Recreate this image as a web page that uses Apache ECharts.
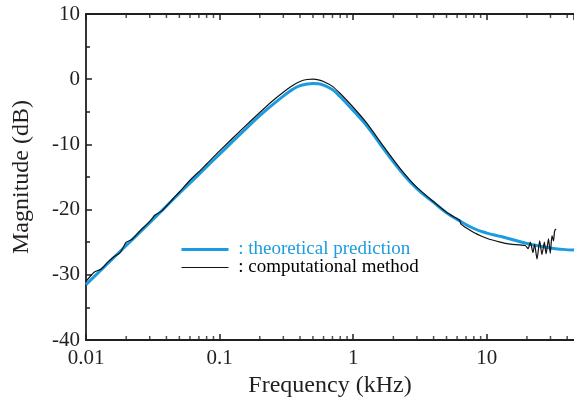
<!DOCTYPE html>
<html>
<head>
<meta charset="utf-8">
<script src="https://cdn.jsdelivr.net/npm/echarts@6/dist/echarts.min.js"></script>
<style>
  html, body { margin: 0; padding: 0; background: #fff; }
  #myChart { width: 574px; height: 402px; }
</style>
</head>
<body>
<div id="myChart"></div>
<script>
// theoretical prediction (kHz, dB)
const theoFreq = [0.01, 0.02, 0.03, 0.05, 0.07, 0.1, 0.15, 0.2, 0.25, 0.3, 0.35, 0.4, 0.45, 0.5, 0.55, 0.6, 0.7, 0.8, 1.0, 1.26, 1.69, 2.25, 3.0, 4.0, 5.0, 6.0, 8.0, 10, 12.6, 15, 20, 25, 30, 37, 45];
const theoMag = [-31.5, -25.5, -22.0, -17.5, -14.6, -11.5, -8.0, -5.6, -3.9, -2.6, -1.6, -1.0, -0.75, -0.66, -0.7, -0.9, -1.6, -2.7, -4.8, -7.1, -10.7, -14.0, -16.8, -18.9, -20.5, -21.5, -22.9, -23.6, -24.1, -24.5, -25.2, -25.6, -25.9, -26.1, -26.2];

// computational method (kHz, dB)
const compFreq = [0.01, 0.0115, 0.013, 0.0145, 0.016, 0.018, 0.02, 0.022, 0.025, 0.03, 0.033, 0.037, 0.045, 0.05, 0.06, 0.065, 0.07, 0.08, 0.1, 0.15, 0.2, 0.25, 0.3, 0.35, 0.4, 0.45, 0.5, 0.55, 0.6, 0.7, 0.8, 1.0, 1.26, 1.69, 2.25, 3.0, 4.0, 5.0, 6.0, 6.3, 6.4, 7.0, 8.0, 10, 12.6, 15, 19.4, 20.4, 21.2, 22.2, 22.8, 23.8, 24.9, 25.9, 27.0, 27.8, 29.0, 29.9, 30.8, 31.6, 32.2, 33.0];
const compMag = [-31.0, -29.6, -29.1, -28.1, -27.3, -26.6, -25.0, -24.6, -23.4, -21.8, -20.8, -20.2, -18.3, -17.3, -15.5, -14.8, -14.2, -13.0, -11.0, -7.5, -5.1, -3.3, -2.0, -1.0, -0.35, -0.05, 0.0, -0.1, -0.35, -1.1, -2.2, -4.3, -6.7, -10.3, -13.7, -16.6, -18.8, -20.4, -21.4, -21.7, -22.2, -22.8, -23.5, -24.4, -25.0, -25.3, -25.5, -26.0, -25.0, -26.6, -25.3, -27.6, -24.8, -26.9, -25.0, -26.8, -24.5, -26.7, -24.0, -24.8, -23.3, -22.95];

// minor ticks of the log axis
const minorTicks = [0.02, 0.03, 0.04, 0.05, 0.06, 0.07, 0.08, 0.09, 0.2, 0.3, 0.4, 0.5, 0.6, 0.7, 0.8, 0.9, 2, 3, 4, 5, 6, 7, 8, 9, 20, 30, 40];

const yTicks = { min: -40, max: 10, interval: 10 };
const xRange = { min: 0.01, max: 45 };

const ink = "#231f20";
const blue = "#1b9be0";
const serif = "Liberation Serif";

function pairs(xs, ys) {
  return xs.map((x, i) => [x, ys[i]]);
}

let chart = echarts.init(document.getElementById("myChart"));
let option = {
  animation: false,
  textStyle: { fontFamily: serif, color: ink },
  grid: { left: 86, right: 0, top: 14, bottom: 62, outerBoundsMode: "none" },
  legend: {
    orient: "vertical",
    left: 175,
    top: 235,
    itemWidth: 47,
    itemHeight: 14,
    itemGap: -1,
    formatter: (name) => " : " + name,
    itemStyle: { opacity: 0 },
    data: [
      { name: "theoretical prediction", textStyle: { color: blue }, lineStyle: { width: 3 } },
      { name: "computational method", textStyle: { color: "#000" }, lineStyle: { width: 1.2 } },
    ],
    textStyle: { fontFamily: serif, fontSize: 19, lineHeight: 14 },
  },
  xAxis: [
    {
      type: "log",
      logBase: 10,
      min: xRange.min,
      max: xRange.max,
      name: "Frequency (kHz)",
      nameLocation: "middle",
      nameGap: 33,
      nameTextStyle: { fontFamily: serif, fontSize: 24, color: ink },
      axisLine: { onZero: false, lineStyle: { color: ink, width: 1.8 } },
      axisTick: { inside: true, length: 6, lineStyle: { color: ink, width: 1.5 } },
      axisLabel: {
        fontFamily: serif, fontSize: 21, color: ink, margin: 8,
        showMaxLabel: false,
      },
      splitLine: { show: false },
    },
    {
      type: "log",
      logBase: 10,
      position: "top",
      min: xRange.min,
      max: xRange.max,
      axisLine: { onZero: false, lineStyle: { color: ink, width: 1.8 } },
      axisTick: { inside: true, length: 6, lineStyle: { color: ink, width: 1.5 } },
      axisLabel: { show: false },
      splitLine: { show: false },
    },
  ],
  yAxis: {
    type: "value",
    min: yTicks.min,
    max: yTicks.max,
    interval: yTicks.interval,
    name: "Magnitude (dB)",
    nameLocation: "middle",
    nameGap: 52,
    nameTextStyle: { fontFamily: serif, fontSize: 24, color: ink },
    axisLine: { show: true, lineStyle: { color: ink, width: 1.8 } },
    axisTick: { show: true, inside: true, length: 6, lineStyle: { color: ink, width: 1.5 } },
    minorTick: { show: true, splitNumber: 2, length: 4, lineStyle: { color: ink, width: 1.5 } },
    axisLabel: { fontFamily: serif, fontSize: 21, color: ink, margin: 6 },
    splitLine: { show: false },
  },
  series: [
    {
      type: "line",
      name: "theoretical prediction",
      data: pairs(theoFreq, theoMag),
      smooth: true,
      symbol: "none",
      lineStyle: { color: blue, width: 3 },
      itemStyle: { color: blue },
      z: 2,
    },
    {
      type: "line",
      name: "computational method",
      data: pairs(compFreq, compMag),
      smooth: 0.2,
      symbol: "none",
      lineStyle: { color: "#111", width: 1.2 },
      itemStyle: { color: "#111" },
      z: 3,
    },
    {
      // minor ticks, bottom
      type: "scatter",
      silent: true,
      data: minorTicks.map((f) => [f, yTicks.min]),
      symbol: "rect",
      symbolSize: [1.5, 4],
      symbolOffset: [0, -2],
      itemStyle: { color: ink },
      z: 4,
    },
    {
      // minor ticks, top
      type: "scatter",
      silent: true,
      xAxisIndex: 1,
      data: minorTicks.map((f) => [f, yTicks.max]),
      symbol: "rect",
      symbolSize: [1.5, 4],
      symbolOffset: [0, 2],
      itemStyle: { color: ink },
      z: 4,
    },
  ],
};
chart.setOption(option);
</script>
</body>
</html>
